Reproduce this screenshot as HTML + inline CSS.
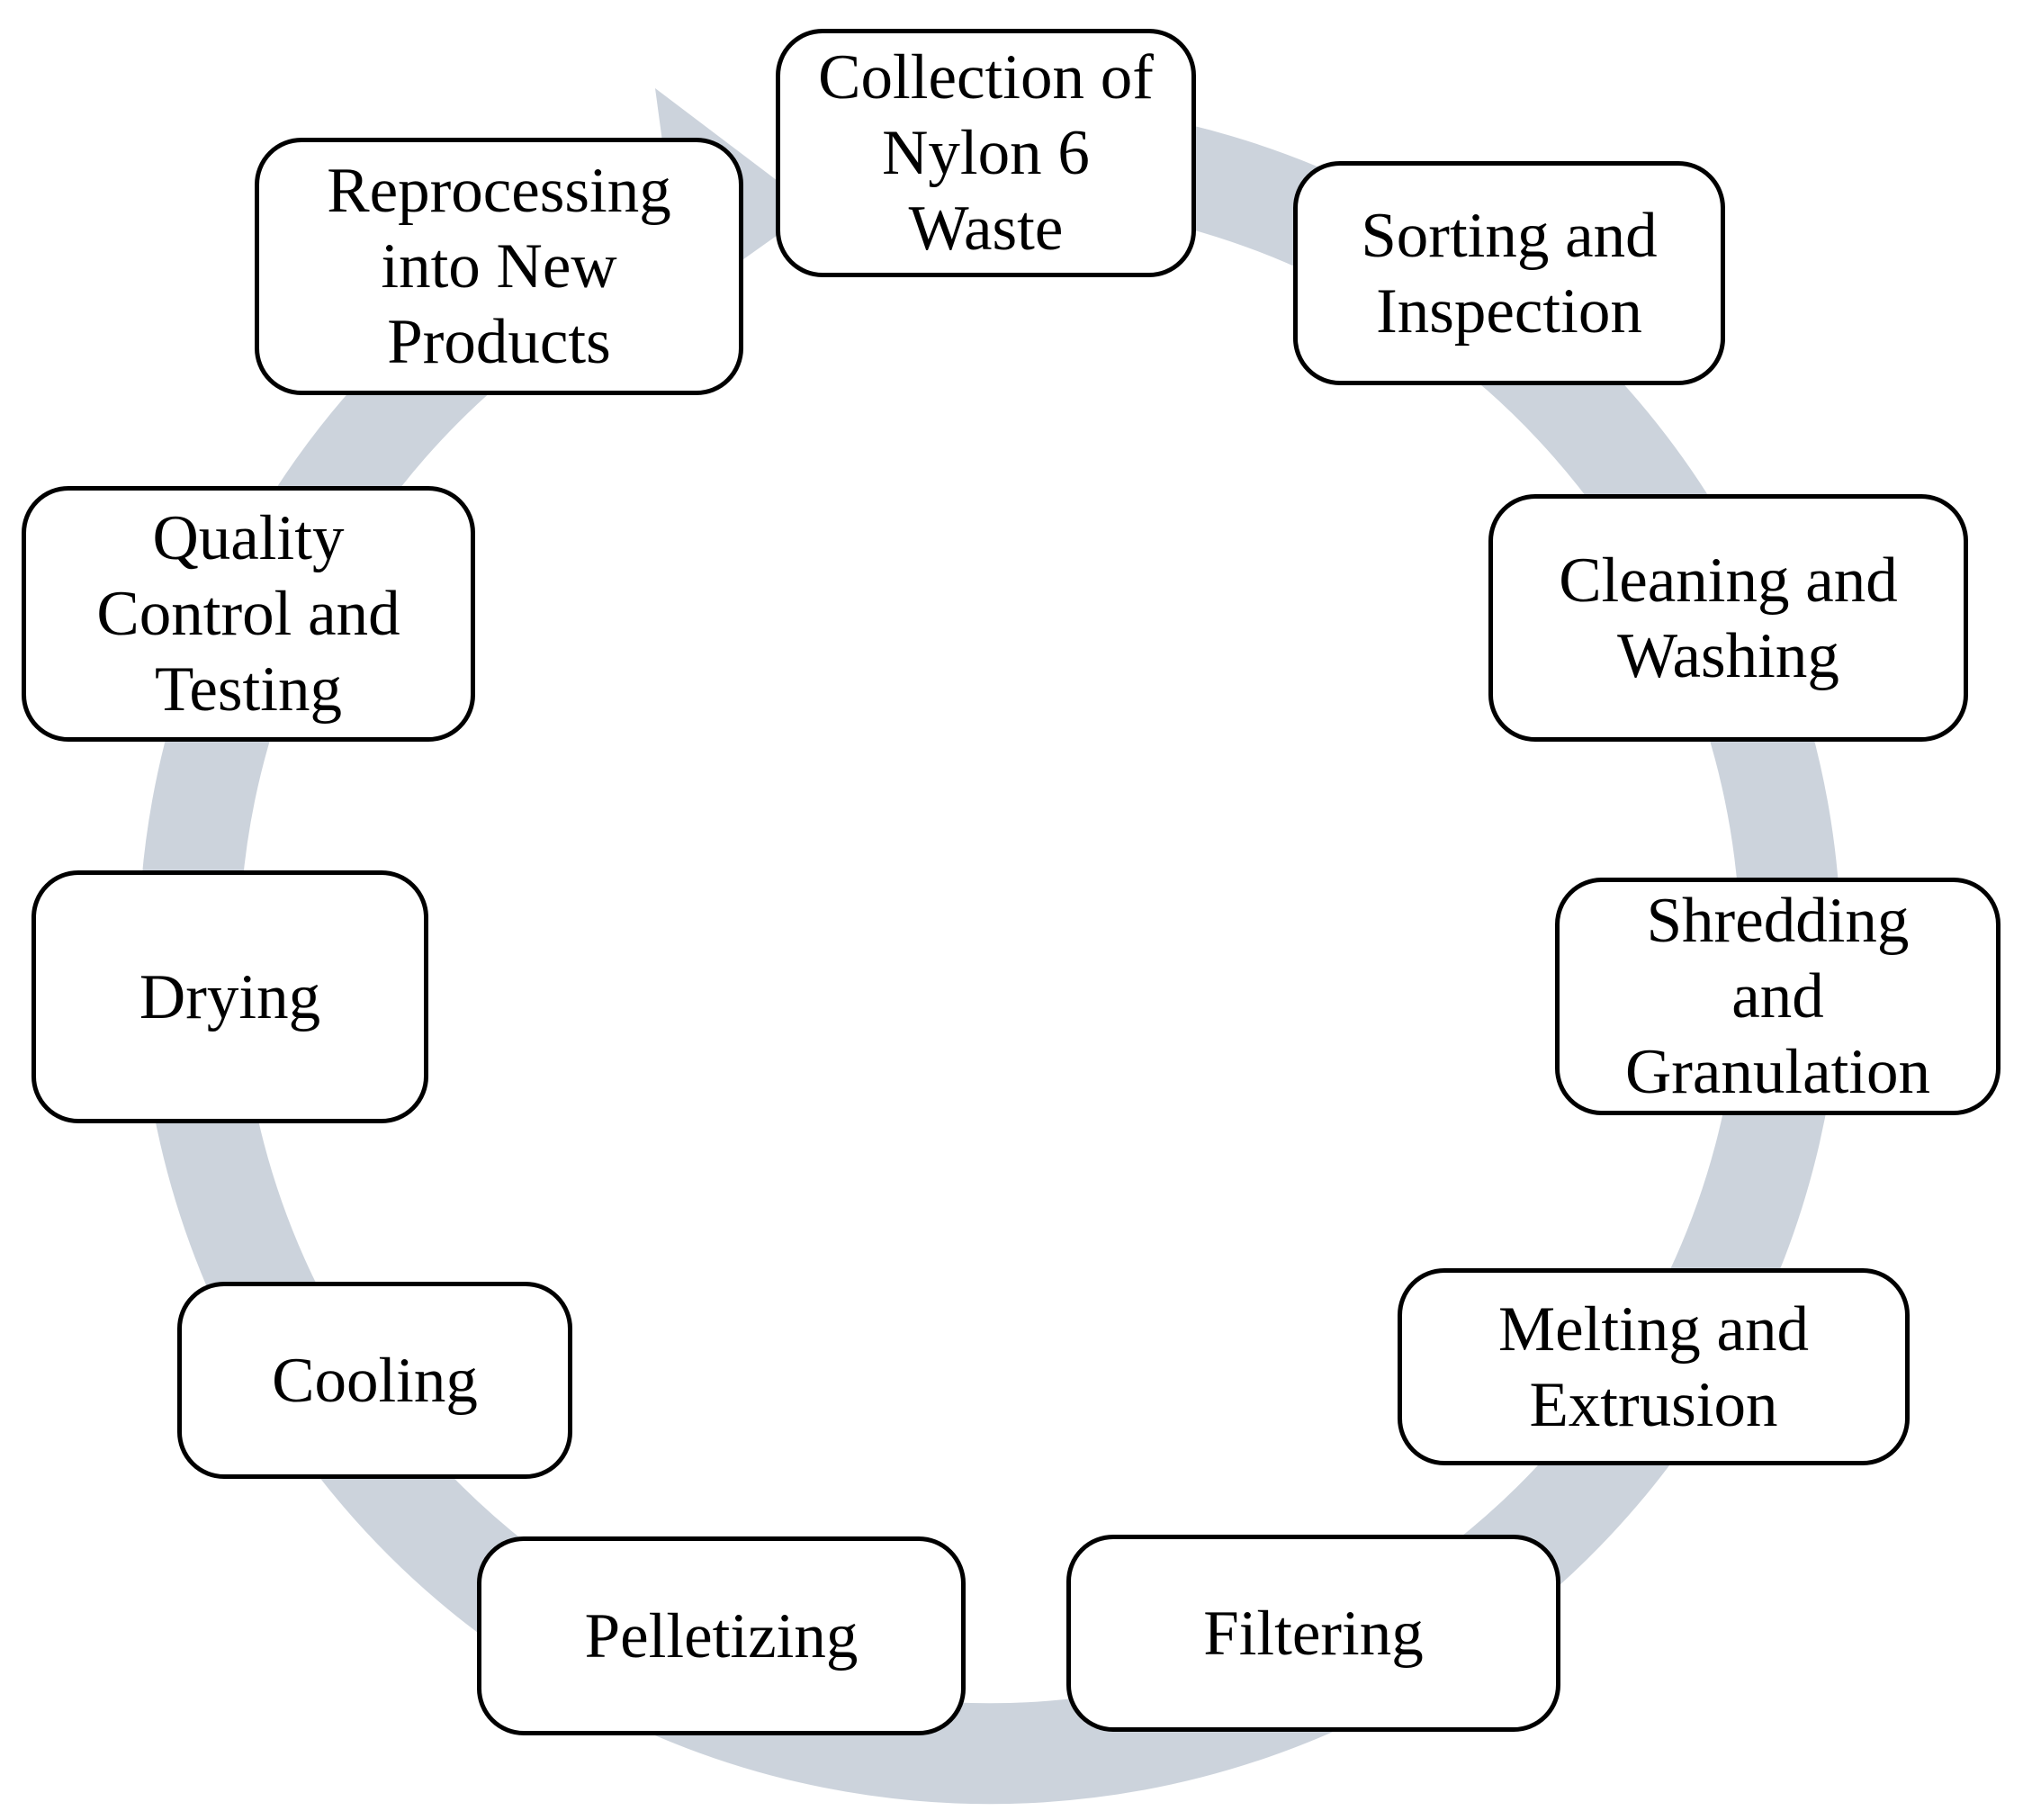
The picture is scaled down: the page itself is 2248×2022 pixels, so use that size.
<!DOCTYPE html>
<html><head><meta charset="utf-8"><style>
html,body{margin:0;padding:0;background:#fff;}
body{width:2248px;height:2022px;position:relative;overflow:hidden;}
svg{position:absolute;left:0;top:0;}
.b{position:absolute;box-sizing:border-box;border:5px solid #000;border-radius:52px;background:#fff;display:flex;align-items:center;justify-content:center;text-align:center;font-family:"Liberation Serif",serif;font-size:71px;line-height:84px;color:#000;}
</style></head><body>
<svg width="2248" height="2022" viewBox="0 0 2248 2022">
<path d="M944 182 A890 890 0 1 1 681 273" fill="none" stroke="#ccd3dc" stroke-width="112"/>
<polygon points="728,98 905,232 760,335" fill="#ccd3dc"/>
</svg>
<div style="position:absolute;left:-5px;top:-3px;width:2248px;height:2022px;">
<div class="b" style="left:867px;top:35px;width:467px;height:276px;">Collection of<br>Nylon 6<br>Waste</div>
<div class="b" style="left:1442px;top:182px;width:480px;height:249px;">Sorting and<br>Inspection</div>
<div class="b" style="left:1659px;top:552px;width:533px;height:275px;">Cleaning and<br>Washing</div>
<div class="b" style="left:1733px;top:978px;width:495px;height:264px;">Shredding<br>and<br>Granulation</div>
<div class="b" style="left:1558px;top:1412px;width:569px;height:219px;">Melting and<br>Extrusion</div>
<div class="b" style="left:1190px;top:1708px;width:549px;height:219px;">Filtering</div>
<div class="b" style="left:535px;top:1710px;width:543px;height:221px;">Pelletizing</div>
<div class="b" style="left:202px;top:1427px;width:439px;height:219px;">Cooling</div>
<div class="b" style="left:40px;top:970px;width:441px;height:281px;">Drying</div>
<div class="b" style="left:29px;top:543px;width:504px;height:284px;">Quality<br>Control and<br>Testing</div>
<div class="b" style="left:288px;top:156px;width:543px;height:286px;">Reprocessing<br>into New<br>Products</div>
</div>
</body></html>
